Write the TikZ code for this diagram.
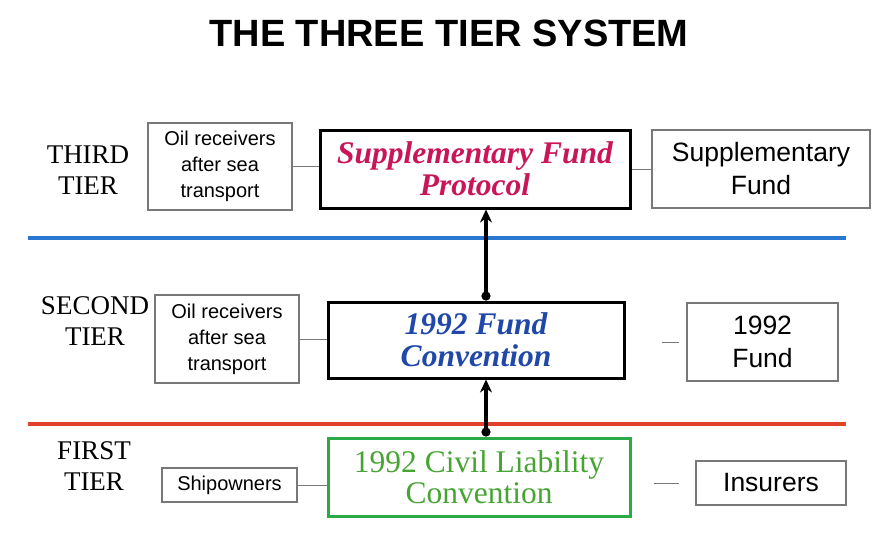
\documentclass[tikz,border=0pt]{standalone}
\usepackage{fontspec}
\setmainfont{Liberation Serif}
\setsansfont{Liberation Sans}
\usetikzlibrary{arrows.meta}

\definecolor{suppred}{RGB}{200,22,88}
\definecolor{fundblue}{RGB}{32,72,168}
\definecolor{clcgreen}{RGB}{70,165,50}
\definecolor{clcframe}{RGB}{40,170,70}
\definecolor{tierblue}{RGB}{40,120,210}
\definecolor{tierred}{RGB}{225,65,40}
\definecolor{boxgray}{RGB}{120,120,120}

\tikzset{
    party/.style={draw=boxgray, line width=1.2pt, align=center, inner sep=0pt,
        font=\sffamily\fontsize{20}{26}\selectfont},
    fundbox/.style={party, font=\sffamily\fontsize{26.5}{33}\selectfont},
    treaty/.style={draw, line width=3pt, align=center, inner sep=0pt,
        font=\rmfamily\bfseries\itshape\fontsize{31.5}{32}\selectfont},
    tier/.style={align=center, font=\rmfamily\fontsize{27}{31}\selectfont},
    link/.style={draw=boxgray, line width=1pt},
    lift/.style={line width=3.4pt, {Circle[length=9pt]}-{Stealth[length=13pt,width=12pt]}}
}

\begin{document}
\begin{tikzpicture}[x={(1pt,0pt)}, y={(0pt,-1pt)}]
    \useasboundingbox (0,0) rectangle (872,536);
    \node (title) at (449,33) {\sffamily\bfseries\fontsize{38}{40}\selectfont THE THREE TIER SYSTEM};

    % tier labels
    \node[tier] (third) at (88,170) {THIRD\\TIER};
    \node[tier] (second) at (95,321) {SECOND\\TIER};
    \node[tier] (first) at (94,466) {FIRST\\TIER};

    % contributors on the left
    \node[party, minimum width=144pt, minimum height=87pt] (recv3) at (220,166.5) {Oil receivers\\after sea\\transport};
    \node[party, minimum width=144pt, minimum height=88pt] (recv2) at (227,339) {Oil receivers\\after sea\\transport};
    \node[party, minimum width=135pt, minimum height=34pt] (owners) at (229.5,485) {Shipowners};

    % the three conventions
    \node[treaty, text=suppred, minimum width=310pt, minimum height=78pt] (supp) at (475,169) {Supplementary Fund\\Protocol};
    \node[treaty, text=fundblue, minimum width=296pt, minimum height=76pt] (fund) at (476,340) {1992 Fund\\Convention};
    \node[treaty, draw=clcframe, text=clcgreen, font=\rmfamily\fontsize{31.5}{31}\selectfont,
        minimum width=302pt, minimum height=78pt] (clc) at (479,477) {1992 Civil Liability\\Convention};

    % who pays on the right
    \node[fundbox, minimum width=218pt, minimum height=78pt] (suppfund) at (761,169) {Supplementary\\Fund};
    \node[fundbox, minimum width=151pt, minimum height=78pt] (fund92) at (762.5,342) {1992\\Fund};
    \node[fundbox, minimum width=150pt, minimum height=44pt] (insurers) at (771,483) {Insurers};

    % tier separators
    \draw[tierblue, line width=3.2pt] (28,238) -- (846,238);
    \draw[tierred, line width=3.2pt] (28,424) -- (846,424);

    \draw[link] (recv3.east) -- (supp.west |- recv3.east);
    \draw[link] (recv2.east) -- (fund.west |- recv2.east);
    \draw[link] (owners.east) -- (clc.west |- owners.east);
    \draw[link] (supp.east |- suppfund.west) -- (suppfund.west);
    \draw[link, shorten <=36pt, shorten >=7pt] (fund.east |- fund92.west) -- (fund92.west);
    \draw[link, shorten <=22pt, shorten >=16pt] (clc.east |- insurers.west) -- (insurers.west);

    \draw[lift] ([xshift=10pt]fund.north) -- ([xshift=11pt]supp.south);
    \draw[lift] ([xshift=7pt]clc.north) -- ([xshift=10pt]fund.south);
\end{tikzpicture}
\end{document}
